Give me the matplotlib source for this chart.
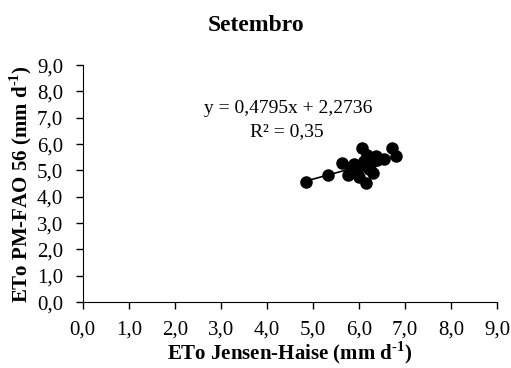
import matplotlib

matplotlib.use("Agg")
import matplotlib.pyplot as plt
import numpy as np

plt.rcParams["font.family"] = ["Liberation Serif", "DejaVu Serif"]
plt.rcParams["mathtext.fontset"] = "custom"
plt.rcParams["mathtext.rm"] = "Liberation Serif"
plt.rcParams["mathtext.bf"] = "Liberation Serif:bold"

# ETo Jensen-Haise (x) vs ETo PM-FAO 56 (y), September
eto_jh = [4.85, 5.33, 5.62, 5.77, 5.80, 5.85, 5.90, 5.95, 6.00, 6.05, 6.07,
          6.10, 6.15, 6.18, 6.22, 6.25, 6.30, 6.36, 6.40, 6.55, 6.71, 6.80]
eto_pm = [4.56, 4.83, 5.30, 4.83, 5.15, 5.05, 5.25, 4.95, 4.75, 5.20, 5.85,
          5.35, 4.53, 5.60, 5.05, 5.30, 4.90, 5.55, 5.40, 5.45, 5.84, 5.55]
slope = 0.4795
intercept = 2.2736
r2 = 0.35
ticks = np.arange(0, 9.1, 1.0)

fig = plt.figure(figsize=(5.11, 3.68), dpi=100)
ax = fig.add_axes([0.162, 0.179, 0.811, 0.644])

xs = np.array([min(eto_jh), max(eto_jh)])
ax.plot(xs, slope * xs + intercept, color="black", lw=1.2, zorder=2)
ax.plot(eto_jh, eto_pm, "o", color="black", ms=8, zorder=3)

ax.set_xlim(0, 9)
ax.set_ylim(0, 9)
ax.set_xticks(ticks)
ax.set_yticks(ticks)
lbl = [f"{t:.1f}".replace(".", ",") for t in ticks]
ax.set_xticklabels(lbl)
ax.set_yticklabels(lbl)
ax.tick_params(direction="out", length=5, width=1, labelsize=15)
ax.tick_params(axis="x", pad=8)
ax.tick_params(axis="y", pad=9)
for s in ["top", "right"]:
    ax.spines[s].set_visible(False)

ax.text(4.46, 7.34, "y = 0,4795x + 2,2736", ha="center", va="center", fontsize=14)
ax.text(4.44, 6.46, "R² = 0,35", ha="center", va="center", fontsize=14)

ax.set_xlabel(r"ETo Jensen-Haise (mm d$^{\mathbf{\text{-}1}}$)", fontsize=15,
              fontweight="bold", labelpad=0)
ax.set_ylabel(r"ETo PM-FAO 56 (mm d$^{\mathbf{\text{-}1}}$)", fontsize=15,
              fontweight="bold", labelpad=2)
fig.suptitle("Setembro", fontsize=17, fontweight="bold", y=0.96)

fig.savefig("out.png", dpi=100)
